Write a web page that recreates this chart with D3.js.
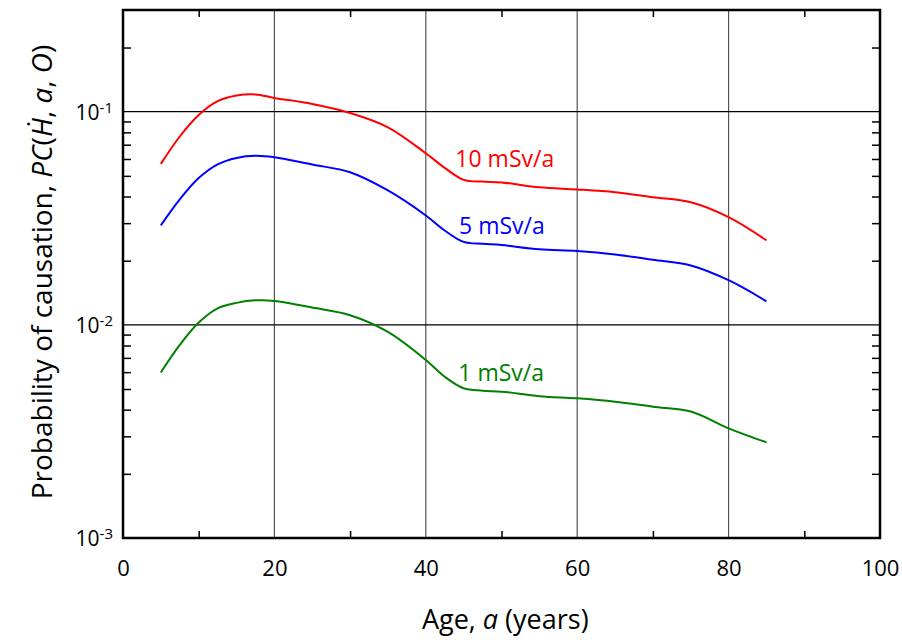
<html>
<head>
<script src="https://cdn.jsdelivr.net/npm/d3@7"></script>
<style>
  body { margin: 0; background: #fff; }
  text { font-family: "Open Sans", "DejaVu Sans", sans-serif; }
</style>
</head>
<body>
<svg id="chart" width="902" height="642"></svg>
<script>
// ages (years)
const ages = [5, 7.5, 10, 12.5, 15, 17.5, 20, 25, 30, 35, 40, 42.5, 45, 47.5, 50, 55, 60, 65, 70, 75, 80, 85]
// probability of causation for each dose rate
const pc10 = [0.0569, 0.0765, 0.0965, 0.112, 0.119, 0.1205, 0.116, 0.1087, 0.0986, 0.0845, 0.0638, 0.0545, 0.0479, 0.047, 0.0466, 0.0442, 0.0432, 0.0419, 0.0397, 0.0376, 0.032, 0.0249]
const pc5 = [0.0293, 0.0388, 0.0488, 0.0566, 0.0607, 0.0621, 0.0611, 0.0565, 0.052, 0.0427, 0.0326, 0.0277, 0.0245, 0.024, 0.0237, 0.0226, 0.0222, 0.0214, 0.0202, 0.019, 0.0162, 0.0129]
const pc1 = [0.00598, 0.00805, 0.01025, 0.01195, 0.01268, 0.01303, 0.01295, 0.01205, 0.0111, 0.00926, 0.00684, 0.00571, 0.00504, 0.00491, 0.00486, 0.00463, 0.00452, 0.00436, 0.00413, 0.00392, 0.00327, 0.00281]
const seriesNames = ["10 mSv/a", "5 mSv/a", "1 mSv/a"]
const seriesColors = ["#ff0000", "#0000ff", "#008000"]
const labelAges = [43.9, 44.4, 44.3]
const labelVals = [0.0552, 0.0268, 0.00543]

const xMajor = [0, 20, 40, 60, 80, 100]
const xMinor = [10, 30, 50, 70, 90]
const yMajor = [1e-3, 1e-2, 1e-1]
const yExp = ["-3", "-2", "-1"]

const WIDTH = 902, HEIGHT = 642
const MARGIN = {left: 123, top: 10, right: 22, bottom: 104}
const innerW = WIDTH - MARGIN.left - MARGIN.right
const innerH = HEIGHT - MARGIN.top - MARGIN.bottom

const svg = d3.select("#chart")
const g = svg.append("g").attr("transform", `translate(${MARGIN.left},${MARGIN.top})`)

const x = d3.scaleLinear().domain([0, 100]).range([0, innerW])
const y = d3.scaleLog().domain([1e-3, 0.3]).range([innerH, 0])

// minor log ticks 2..9 per decade
let yMinor = []
for (let e = -3; e <= -1; e++) {
  for (let k = 2; k <= 9; k++) {
    let v = k * Math.pow(10, e)
    if (v <= 0.3) yMinor.push(v)
  }
}

// grid
g.selectAll(".vgrid").data([20, 40, 60, 80]).enter().append("line")
  .attr("x1", d => x(d)).attr("x2", d => x(d))
  .attr("y1", 0).attr("y2", innerH)
  .attr("stroke", "#555").attr("stroke-width", 1.2)
g.selectAll(".hgrid").data([1e-2, 1e-1]).enter().append("line")
  .attr("x1", 0).attr("x2", innerW)
  .attr("y1", d => y(d)).attr("y2", d => y(d))
  .attr("stroke", "#000").attr("stroke-width", 1.2)

// inward minor ticks on all four sides
function tickStyle(sel) {
  sel.select(".domain").remove()
  sel.selectAll("line").attr("stroke", "#000").attr("stroke-width", 1.5)
}
g.append("g").attr("transform", `translate(0,${innerH})`)
  .call(d3.axisBottom(x).tickValues(xMinor).tickSize(-7).tickFormat("")).call(tickStyle)
g.append("g")
  .call(d3.axisTop(x).tickValues(xMinor).tickSize(-7).tickFormat("")).call(tickStyle)
g.append("g")
  .call(d3.axisLeft(y).tickValues(yMinor).tickSize(-8).tickFormat("")).call(tickStyle)
g.append("g").attr("transform", `translate(${innerW},0)`)
  .call(d3.axisRight(y).tickValues(yMinor).tickSize(-8).tickFormat("")).call(tickStyle)

// x tick labels
let xAx = g.append("g").attr("transform", `translate(0,${innerH})`)
  .call(d3.axisBottom(x).tickValues(xMajor).tickSize(0).tickPadding(22).tickFormat(d3.format("d")))
xAx.select(".domain").remove()
xAx.selectAll("text").attr("font-size", 22).attr("fill", "#000")

// y tick labels with superscript exponent
let yAx = g.append("g")
  .call(d3.axisLeft(y).tickValues(yMajor).tickSize(0).tickPadding(10).tickFormat(""))
yAx.select(".domain").remove()
yAx.selectAll("text").attr("fill", "#000").attr("font-size", 21).attr("dy", "0.35em")
  .each(function(d, i) {
    let t = d3.select(this)
    t.append("tspan").text("10")
    t.append("tspan").attr("dy", "-0.45em").attr("font-size", 15).text(yExp[i])
  })

// frame
g.append("rect").attr("width", innerW).attr("height", innerH)
  .attr("fill", "none").attr("stroke", "#000").attr("stroke-width", 2.5)

// curves
const allSeries = [pc10, pc5, pc1]
const line = d3.line()
  .x(d => x(d[0])).y(d => y(d[1]))
  .curve(d3.curveCatmullRom.alpha(0.5))

allSeries.forEach((vals, i) => {
  let pts = ages.map((a, j) => [a, vals[j]])
  g.append("path").datum(pts)
    .attr("fill", "none").attr("stroke", seriesColors[i]).attr("stroke-width", 2)
    .attr("d", line)
})

// curve labels
allSeries.forEach((vals, i) => {
  g.append("text")
    .attr("x", x(labelAges[i])).attr("y", y(labelVals[i]))
    .attr("font-size", 23).attr("fill", seriesColors[i])
    .text(seriesNames[i])
})

// axis titles
let xt = svg.append("text")
  .attr("x", MARGIN.left + x(50.5)).attr("y", 629)
  .attr("text-anchor", "middle").attr("font-size", 27).attr("fill", "#000")
xt.append("tspan").text("Age, ")
xt.append("tspan").attr("font-style", "italic").text("a")
xt.append("tspan").text(" (years)")

let yt = svg.append("text")
  .attr("transform", `translate(52,${272}) rotate(-90)`)
  .attr("text-anchor", "middle").attr("font-size", 28).attr("fill", "#000")
yt.append("tspan").text("Probability of causation, ")
yt.append("tspan").attr("font-style", "italic").text("PC")
yt.append("tspan").text("(")
yt.append("tspan").attr("font-style", "italic").text("\u1E22")
yt.append("tspan").text(", ")
yt.append("tspan").attr("font-style", "italic").text("a")
yt.append("tspan").text(", ")
yt.append("tspan").attr("font-style", "italic").text("O")
yt.append("tspan").text(")")
</script>
</body>
</html>
